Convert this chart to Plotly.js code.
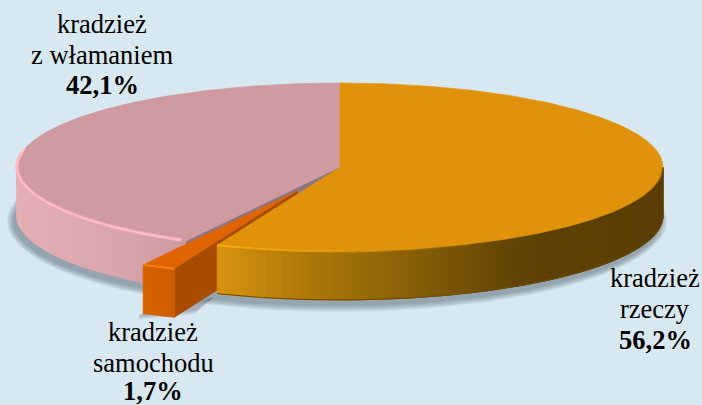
<!DOCTYPE html>
<html><head><meta charset="utf-8">
<script src="https://cdn.plot.ly/plotly-3.0.1.min.js"></script>
<style>html,body{margin:0;padding:0;background:#d8e8f0}</style></head>
<body><div id="chart" style="width:702px;height:405px"></div>
<script>
const categories = ["kradzież rzeczy", "kradzież samochodu", "kradzież z włamaniem"];
const values = [56.2, 1.7, 42.1];
const valueLabels = ["56,2%", "1,7%", "42,1%"];
const labelLines = [["kradzież", "rzeczy"], ["kradzież", "samochodu"], ["kradzież", "z włamaniem"]];
const labelCenterX = [655, 153, 102];
const labelCenterY = [[278, 309, 340], [332, 363, 391], [24, 55, 85]];

const cx = 340, cy = 167, rx = 323, ry = 84, depth = 49, explode = 0.31;
const rad = d => d * Math.PI / 180;
const total = values.reduce((a, b) => a + b, 0);
const a0 = 0, a1 = values[0] / total * 360, a2 = a1 + values[1] / total * 360, a3 = 360;
const mid = (a1 + a2) / 2;
const ox = rx * explode * Math.sin(rad(mid)), oy = -ry * explode * Math.cos(rad(mid));
const P = (a, dx = 0, dy = 0, r = 1) => [cx + dx + r * rx * Math.sin(rad(a)), cy + dy - r * ry * Math.cos(rad(a))];
const arc = (s, e, dx = 0, dy = 0) => {
  const n = Math.max(2, Math.ceil(Math.abs(e - s) * 2)), out = [];
  for (let i = 0; i <= n; i++) out.push(P(s + (e - s) * i / n, dx, dy));
  return out;
};
const traces = [];
const poly = (pts, color, lw = 0.6, opacity = 1) => traces.push({
  type: "scatter", mode: "lines", x: pts.map(p => p[0]), y: pts.map(p => p[1]),
  fill: "toself", fillcolor: color, line: { color: color, width: lw }, opacity,
  hoverinfo: "skip", showlegend: false
});
const stroke = (pts, color, w, opacity = 1) => traces.push({
  type: "scatter", mode: "lines", x: pts.map(p => p[0]), y: pts.map(p => p[1]),
  line: { color, width: w }, opacity, hoverinfo: "skip", showlegend: false
});
const lerp = (stops, x) => {
  let i = 0;
  while (i < stops.length - 2 && x > stops[i + 1][0]) i++;
  const [x0, c0] = stops[i], [x1, c1] = stops[i + 1];
  const t = Math.min(1, Math.max(0, (x - x0) / (x1 - x0)));
  return "rgb(" + c0.map((c, k) => Math.round(c + (c1[k] - c) * t)).join(",") + ")";
};
const wall = (s, e, stops, dx = 0, dy = 0) => {
  const step = 1.5;
  const n = Math.ceil(Math.abs(e - s) / step);
  for (let i = 0; i < n; i++) {
    const u = s + (e - s) * i / n, v = s + (e - s) * (i + 1) / n;
    const A = P(u, dx, dy), B = P(v, dx, dy);
    poly([A, B, [B[0], B[1] + depth], [A[0], A[1] + depth], A], lerp(stops, (A[0] + B[0]) / 2), 1);
  }
};
const fadeRim = (s, e, color, width, o0, o1, dy = 0) => {
  const n = 14;
  for (let i = 0; i < n; i++) {
    const u = s + (e - s) * i / n, v = s + (e - s) * (i + 1) / n;
    stroke(arc(u, v, 0, dy), color, width, o0 + (o1 - o0) * (i + 0.5) / n);
  }
};
const gold = [[217, [216, 147, 14]], [300, [176, 122, 10]], [370, [150, 106, 8]], [450, [122, 85, 7]], [520, [95, 67, 5]], [670, [90, 61, 5]]];
const pinkW = [[17, [228, 175, 181]], [120, [217, 165, 171]], [190, [200, 154, 160]]];

// soft shadow under the cake
for (let i = 0; i < 7; i++) {
  const s = 7 - i;
  const pts = [];
  for (let a = 0; a <= 360; a += 2) pts.push([cx - 3 + (rx + s) * Math.sin(rad(a)), cy + depth + 5 - (ry + s) * Math.cos(rad(a))]);
  poly(pts, "rgb(60,70,80)", 0, 0.07);
}
for (let i = 0; i < 5; i++) {
  const s = 5 - i;
  const A = P(a2, ox, oy), B = P(a1, ox, oy);
  poly([[A[0] - s, A[1] + depth + 1], [A[0] - s, A[1] + depth + s + 1], [B[0] + 20, B[1] + depth + s - 8], [B[0] + 40, B[1] + depth - 20]], "rgb(60,70,80)", 0, 0.08);
}

// burglary slice
wall(a2, 270, pinkW);
poly([[cx, cy], P(a2), [P(a2)[0], P(a2)[1] + depth], [cx, cy + depth]], "rgb(142,118,128)");
poly([[cx, cy], ...arc(a2, a3)], "rgb(207,155,161)");
stroke(arc(a2 + 1, 280), "rgb(244,176,188)", 4, 0.55);
stroke(arc(a2 + 1, 283), "rgb(255,186,198)", 2.2);

// car slice
const R = P(a1, ox, oy);
poly([R, [R[0], R[1] + depth], [cx + ox, cy + oy + depth], [cx + ox, cy + oy]], "rgb(168,76,0)");
wall(a1, a2, [[140, [214, 98, 0]], [175, [206, 94, 0]]], ox, oy);
poly([[cx + ox, cy + oy], ...arc(a1, a2, ox, oy)], "rgb(224,100,0)");
stroke(arc(a1, a2, ox, oy + 0.5), "rgb(244,128,14)", 2);

// property slice
wall(a0 + 90, a1, gold);
poly([[cx, cy], ...arc(a0, a1)], "rgb(224,147,10)");
stroke(arc(a1, a0 + 90, 0, depth), "rgb(112,76,6)", 1);
fadeRim(a1, a1 - 50, "rgb(248,172,18)", 2, 0.95, 0.0, 0.5);
fadeRim(a1 - 70, a0 + 90, "rgb(92,62,5)", 2.5, 0.0, 0.55, 1);

const annotations = [];
const addText = (text, x, y, bold) => annotations.push({
  x, y, xref: "x", yref: "y", text: bold ? "<b>" + text + "</b>" : text, showarrow: false,
  xanchor: "center", yanchor: "middle",
  font: { family: "Liberation Serif, Times New Roman, serif", size: 26.5, color: "#000" }
});
categories.forEach((c, i) => {
  labelLines[i].forEach((t, k) => addText(t, labelCenterX[i], labelCenterY[i][k], false));
  addText(valueLabels[i], labelCenterX[i], labelCenterY[i][2], true);
});

Plotly.newPlot("chart", traces, {
  width: 702, height: 405, margin: { l: 0, r: 0, t: 0, b: 0 },
  paper_bgcolor: "#d8e8f0", plot_bgcolor: "#d8e8f0", showlegend: false,
  xaxis: { range: [0, 702], visible: false, fixedrange: true },
  yaxis: { range: [405, 0], visible: false, fixedrange: true },
  annotations
}, { displayModeBar: false, staticPlot: true });
</script></body></html>
